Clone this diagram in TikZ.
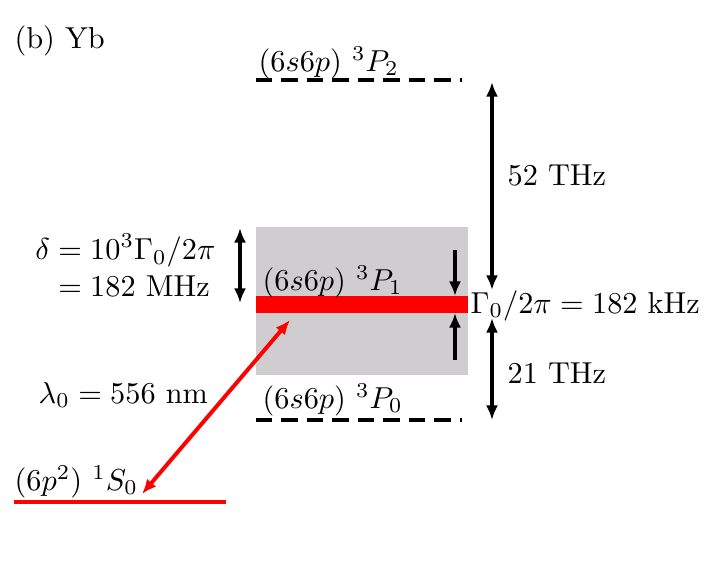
\documentclass[tikz,border=0pt]{standalone}
\usepackage{amsmath,amssymb}
\usepackage{tikz}
\usetikzlibrary{arrows.meta,positioning}
\usepackage{xcolor}
\definecolor{LevelRed}{RGB}{255,0,0}
\definecolor{BandGray}{RGB}{207,205,207}
\tikzset{
  dashlevel/.style={very thick, dash pattern=on 5.4pt off 3pt},
  gaparrow/.style={{Latex[length=1.7mm,width=1.4mm]}-{Latex[length=1.7mm,width=1.4mm]}, line width=1.3pt},
  onearrow/.style={-{Latex[length=1.7mm,width=1.4mm]}, line width=1.3pt},
  levellabel/.style={inner sep=0pt, anchor=base west}
}

\begin{document}
\begin{tikzpicture}[x=0.0116cm,y=-0.0116cm]
\useasboundingbox (0,0) rectangle (706,582);
\node[levellabel] (title) at (14,48) {(b) Yb};
% levels
\coordinate (p2a) at (256,80);
\coordinate (p2b) at (462,80);
\coordinate (p0a) at (256,420);
\coordinate (p0b) at (462,420);
\coordinate (s0a) at (14,502);
\coordinate (s0b) at (226,502);
\fill[BandGray] (256,227) rectangle (468,375);
\fill[LevelRed] (256,296) rectangle (468,313);
\draw[dashlevel] (p2a) -- (p2b);
\draw[dashlevel] (p0a) -- (p0b);
\draw[LevelRed, very thick] (s0a) -- (s0b);
\node[levellabel] (p2lab) at (258,71) {$(6s6p)~^3P_2$};
\node[levellabel] (p1lab) at (262,290) {$(6s6p)~^3P_1$};
\node[levellabel] (p0lab) at (262,408) {$(6s6p)~^3P_0$};
\node[levellabel] (s0lab) at (14,490) {$(6p^2)~^1S_0$};
% splittings
\coordinate (dtop) at (240,228);
\coordinate (dbot) at (240,303);
\draw[gaparrow] (dtop) -- (dbot);
\node[anchor=base east, inner sep=0pt] (dlab) at (216,278) {$\setlength{\jot}{0pt}\begin{aligned}\delta &= 10^3\Gamma_0/2\pi\\ &= 182~\mathrm{MHz}\end{aligned}$};
\coordinate (wtop) at (455,250);
\coordinate (wbot) at (455,360);
\draw[onearrow] (wtop) -- (455,296);
\draw[onearrow] (wbot) -- (455,313);
\node[levellabel] (wlab) at (470,313) {$\Gamma_0/2\pi = 182~\mathrm{kHz}$};
\coordinate (fa) at (492,82);
\coordinate (fb) at (492,290);
\coordinate (fc) at (492,318);
\coordinate (fd) at (492,420);
\draw[gaparrow] (fa) -- (fb);
\draw[gaparrow] (fc) -- (fd);
\node[levellabel] (f52) at (507,185) {52 THz};
\node[levellabel] (f21) at (507,383) {21 THz};
% transition
\coordinate (lo) at (142,494);
\coordinate (hi) at (290,320);
\draw[gaparrow, LevelRed] (lo) -- (hi);
\node[levellabel] (lam) at (38,403) {$\lambda_0 = 556~\mathrm{nm}$};
\end{tikzpicture}
\end{document}
